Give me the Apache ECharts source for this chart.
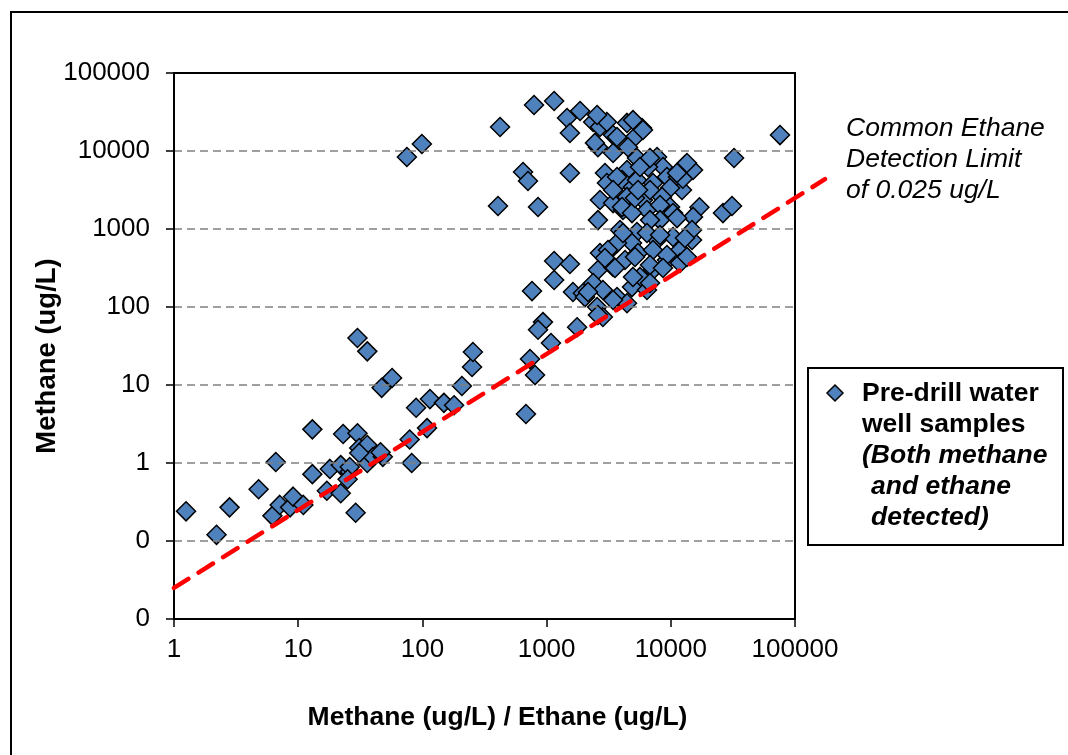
<!DOCTYPE html>
<html>
<head>
<meta charset="utf-8">
<script src="https://cdn.jsdelivr.net/npm/echarts@6/dist/echarts.min.js"></script>
<style>
html,body{margin:0;padding:0;background:#fff;}
#chart{width:1068px;height:755px;}
</style>
</head>
<body>
<div id="chart"></div>
<script>
// Methane/Ethane ratio (x) and Methane ug/L (y) for pre-drill water well samples
const samples = [
  [1.25,0.24],[2.2,0.12],[2.8,0.27],[4.8,0.46],[6.6,1.03],[6.2,0.21],[7.1,0.29],[8.6,0.27],[9.1,0.37],[11,0.29],
  [13,2.7],[13,0.72],[17,0.44],[18,0.84],[22,0.41],[23,2.35],[22,0.94],[26,0.77],[29,0.23],[30,2.4],
  [31,1.56],[30,40],[36,27],[36,1.7],[36,1.0],[40,1.19],[47,9.2],[57,12.3],[48,1.2],[79,2.0],
  [82,1.0],[89,5.1],[109,2.8],[115,6.6],[149,5.9],[180,5.5],[208,9.7],[251,17],[255,26.5],[31,1.34],
  [46,1.37],[26,0.89],[25,0.62],
  [75,8370],[99,12300],[422,20300],[792,38900],[1150,43800],[646,5380],[708,4120],[1540,5220],[406,1970],[853,1915],
  [1150,389],[1540,356],[1150,222],[763,160],[935,64],[853,51],[1760,55],[1630,156],[1960,150],[735,21.5],
  [807,13.4],[682,4.25],[1084,34.5],
  [1460,26500],[1860,32600],[1540,17000],[2370,23500],[2690,20300],[3060,23500],[3430,16000],[4440,22900],[5860,19700],[5150,15100],
  [2590,11200],[3430,9420],[4520,11200],[5340,8130],[7750,8370],[8650,6240],[13000,6620],[15100,5700],[6550,6240],[2950,5220],
  [4440,5700],[3060,3890],[4050,4250],[4960,3450],[7190,3890],[9310,4640],[11430,4640],[12300,3160],[9860,3350],[2690,2350],
  [3430,2150],[4440,2570],[5970,2350],[8490,2570],[4120,1750],[6430,1750],[9860,1910],[17000,1900],
  [2590,1300],[4050,1910],[4870,1600],[8190,2030],[8190,1300],[10420,1600],[15100,1430],[3900,971],[5340,916],[4870,662],
  [7750,723],[10420,789],[11860,538],[14820,723],[2690,492],[3240,538],[2590,298],[3430,326],[4280,401],[5450,492],
  [5650,243],[7190,298],[9310,401],[11860,366],[2370,203],[2040,134],[2840,165],[3690,134],[4870,180],[6430,165],
  [4440,112],[2550,100],[2840,74.5],[3430,123],
  [13490,7020],[12500,4400],[14820,971],[13000,767],[13490,438],[26300,1600],[31100,1970],[32300,8130],[75700,16000],
  [3690,662],[3120,538],[2950,425],[3555,316],[4960,243],[5150,438],[4120,889],[2590,79],[2155,156],
  [2550,28900],[2450,12700],[3690,15100],[4960,24900],[3690,4640],[5340,4250],[3430,3160],[5150,2500],
  [5970,18600],[6800,8130],[5650,6240],[11220,5220],[6800,3160],[5450,3160],
  [6800,1300],[11220,1380],[6430,889],[8190,837],[7190,538],[9310,464],[6800,345],[8650,316],[6800,203]
];
// Ethane detection limit 0.025 ug/L: methane = 0.025 * ratio (line runs past the plot's right edge)
const limitLine = [[1,0.025],[174000,4350]];
const limitXMax = 174000;
const xTicks = [1,10,100,1000,10000,100000];
const yTicks = [0.01,0.1,1,10,100,1000,10000,100000];

const FONT = "'Liberation Sans', Arial, sans-serif";
const chart = echarts.init(document.getElementById('chart'), null, {renderer:'canvas'});
chart.setOption({
  backgroundColor:'#fff',
  animation:false,
  grid:[
    {left:174,right:273,top:73,bottom:136,containLabel:false},
    {left:174,right:243,top:73,bottom:136,containLabel:false}
  ],
  xAxis:[
    {
      gridIndex:0,type:'log',logBase:10,min:xTicks[0],max:xTicks[xTicks.length-1],splitNumber:5,
      name:'Methane (ug/L) / Ethane (ug/L)',nameLocation:'middle',nameGap:85,
      nameTextStyle:{fontFamily:FONT,fontSize:26.5,fontWeight:'bold',color:'#000',padding:[0,0,0,26]},
      axisLine:{lineStyle:{color:'#000',width:2}},
      axisTick:{show:true,inside:false,length:8,lineStyle:{color:'#000',width:1.5}},
      minorTick:{show:false},
      axisLabel:{fontFamily:FONT,fontSize:26,color:'#000',margin:18,
        formatter:v=>String(Math.round(v))},
      splitLine:{show:false},
      z:4
    },
    {
      gridIndex:0,type:'log',logBase:10,min:xTicks[0],max:xTicks[xTicks.length-1],position:'top',
      axisLine:{show:true,lineStyle:{color:'#000',width:2}},axisTick:{show:false},axisLabel:{show:false},splitLine:{show:false},z:4
    },
    {gridIndex:1,type:'log',logBase:10,min:xTicks[0],max:limitXMax,show:false}
  ],
  yAxis:[
    {
      gridIndex:0,type:'log',logBase:10,min:yTicks[0],max:yTicks[yTicks.length-1],splitNumber:7,
      name:'Methane (ug/L)',nameLocation:'middle',nameGap:113,nameRotate:90,nameMoveOverlap:false,
      nameTextStyle:{fontFamily:FONT,fontSize:27.5,fontWeight:'bold',color:'#000',padding:[0,20,0,0]},
      axisLine:{lineStyle:{color:'#000',width:2}},
      axisTick:{show:true,inside:false,length:8,lineStyle:{color:'#000',width:1.5}},
      minorTick:{show:false},
      axisLabel:{fontFamily:FONT,fontSize:26,color:'#000',margin:24,
        formatter:v=> v < 0.99 ? '0' : String(Math.round(v))},
      splitLine:{show:true,lineStyle:{color:'#808080',width:1.5,type:[8,5]}},
      z:4
    },
    {
      gridIndex:0,type:'log',logBase:10,min:yTicks[0],max:yTicks[yTicks.length-1],position:'right',
      axisLine:{show:true,lineStyle:{color:'#000',width:2}},axisTick:{show:false},axisLabel:{show:false},splitLine:{show:false},z:4
    },
    {gridIndex:1,type:'log',logBase:10,min:yTicks[0],max:yTicks[yTicks.length-1],show:false}
  ],
  series:[
    {
      name:'Pre-drill water well samples',
      type:'scatter',
      xAxisIndex:0,yAxisIndex:0,
      data:samples,
      symbol:'diamond',
      symbolSize:19,
      itemStyle:{color:'#4F81BD',borderColor:'#000',borderWidth:1.5,opacity:1},
      z:2
    },
    {
      name:'Ethane detection limit',
      type:'line',
      xAxisIndex:2,yAxisIndex:2,
      data:limitLine,
      symbol:'none',
      clip:false,
      lineStyle:{color:'#FF0000',width:4.5,type:[17,12],cap:'round'},
      z:5
    }
  ],
  graphic:[
    {type:'rect',shape:{x:11,y:12,width:1200,height:1000},style:{fill:'none',stroke:'#000',lineWidth:2},z:-1,silent:true},
    {type:'text',left:846,top:113,style:{text:'Common Ethane\nDetection Limit\nof 0.025 ug/L',font:"italic 26.5px 'Liberation Sans', Arial, sans-serif",fill:'#000',lineHeight:31}},
    {type:'rect',shape:{x:808,y:368,width:255,height:177},style:{fill:'#fff',stroke:'#000',lineWidth:2}},
    {type:'polygon',shape:{points:[[835,385],[843,393],[835,401],[827,393]]},style:{fill:'#4F81BD',stroke:'#000',lineWidth:1.5}},
    {type:'text',left:862,top:378,style:{text:'Pre-drill water\nwell samples',font:"bold 26.5px 'Liberation Sans', Arial, sans-serif",fill:'#000',lineHeight:31}},
    {type:'text',left:862,top:440,style:{text:'(Both methane',font:"italic bold 26.5px 'Liberation Sans', Arial, sans-serif",fill:'#000',lineHeight:31}},
    {type:'text',left:871,top:471,style:{text:'and ethane\ndetected)',font:"italic bold 26.5px 'Liberation Sans', Arial, sans-serif",fill:'#000',lineHeight:31}}
  ]
});
</script>
</body>
</html>
